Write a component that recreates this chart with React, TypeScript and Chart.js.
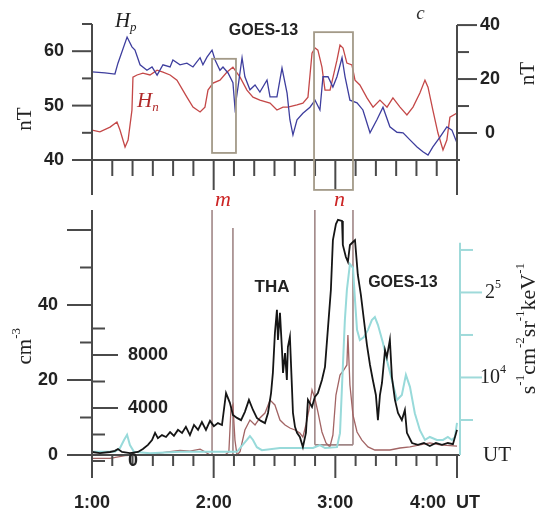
import React, { useEffect, useRef } from "react";
import { Chart, registerables } from "chart.js";
Chart.register(...registerables);

// time axis: minutes after 01:00 UT
const timeTickLabels = ["1:00", "2:00", "3:00", "4:00"];
const timeTickValues = [0, 60, 120, 180];

// ---------- top panel: GOES-13 magnetic field ----------
const hpTime = [0, 6.4, 11.3, 12.8, 17.3, 19.7, 21.2, 23.7, 27.1, 29.6, 32.1, 35, 38.5, 39.9, 43.4, 46.8, 49.8, 53.3, 54.7, 56.7, 59.2, 60.7, 63.1, 64.6, 67.1, 69.5, 70.5, 72, 74, 75.4, 77.9, 80.4, 82.8, 86.3, 87.8, 91.2, 93.7, 96.2, 97.6, 99.1, 101.1, 104, 107.5, 110, 112.4, 113.9, 116.4, 118.8, 120.8, 123.3, 124.8, 127.2, 130.7, 133.6, 137.1, 140.5, 143.5, 146.9, 150.4, 153.4, 156.8, 160.3, 163.2, 165.7, 168.1, 171.6, 175, 177.5, 180];
const hpValue = [56.2, 56.0, 55.8, 57.8, 62.6, 60.8, 60.2, 57.5, 56.5, 57.1, 55.6, 57.5, 57.1, 58.4, 57.5, 57.8, 57.1, 58.8, 57.5, 58.9, 60.2, 58.4, 56.5, 57.1, 56.0, 54.2, 49.6, 53.4, 58.8, 55.3, 52.9, 53.8, 52.5, 54.7, 51.6, 51.6, 56.9, 52.3, 47.4, 44.6, 47.4, 48.6, 49.7, 51.0, 49.2, 55.3, 55.3, 53.4, 55.3, 58.8, 55.3, 51.0, 50.5, 49.2, 45.0, 47.4, 49.7, 46.1, 45.1, 45.0, 43.7, 42.4, 41.5, 40.9, 42.4, 44.2, 46.1, 45.5, 43.1];
const hnTime = [0, 3.9, 8.9, 12.3, 13.8, 16.3, 17.8, 19.7, 20.2, 22.2, 25.1, 28.6, 32.1, 35, 38.5, 41.9, 46.8, 49.8, 53.3, 55.7, 57.2, 59.7, 63.1, 66.6, 69.5, 73, 76.4, 79.4, 82.8, 87.8, 91.2, 94.2, 96.6, 101.1, 104, 106.5, 108.5, 110, 111.4, 113.4, 114.9, 117.4, 120.8, 122.3, 123.8, 125.7, 128.2, 129.7, 132.1, 135.6, 138.6, 142, 145.5, 148.4, 151.9, 155.3, 158.3, 161.7, 164.2, 165.7, 168.1, 170.6, 173.1, 175, 176.5, 180];
const hnValue = [1.1, 0.4, 2.2, 4.1, 1.1, -5.2, -2.6, 8.5, 20.7, 21.5, 22.2, 21.5, 23.3, 22.6, 21.5, 19.6, 13.3, 9.6, 7.8, 9.6, 15.9, 18.5, 19.6, 22.6, 24.4, 20.7, 15.9, 13.3, 12.2, 11.1, 8.5, 9.6, 9.6, 10.4, 11.1, 13.3, 29.6, 31.5, 30.7, 24.4, 15.9, 15.9, 27.0, 32.6, 31.5, 25.9, 25.2, 19.6, 17.8, 13.0, 9.6, 12.2, 9.6, 13.0, 9.6, 6.7, 9.6, 14.8, 19.6, 17.0, 8.5, 0, -6.3, -2.6, 5.9, 7.4];
const hpTicks = [45, 50, 55, 60, 65];
const hpLabels = [40, 50, 60];
const hnTicks = [0, 10, 20, 30, 40];
const hnLabels = [0, 20, 40];
// interval boxes in the top panel [t0, t1, top, bottom] (Hp units)
const mBoxTop = [59.2, 71.0, 58.6, 41.3];
const nBoxTop = [109.5, 128.7, 63.5, 34.5];

// ---------- bottom panel ----------
const thaTime = [0, 3.9, 8.9, 11.3, 12.8, 14.8, 18.7, 22.7, 25.1, 27.6, 29.6, 31.1, 32.5, 34.5, 36.5, 38.5, 40.4, 42.4, 44.4, 46.3, 48.3, 50.3, 52.3, 54.2, 56.2, 58.2, 60.1, 62.1, 64.1, 66.1, 68, 69.5, 71.5, 73.5, 75.4, 77.4, 79.4, 81.3, 83.3, 85.3, 86.8, 88.3, 89.2, 90.2, 91.2, 91.7, 92.7, 93.7, 94.2, 95.2, 96.1, 96.6, 97.6, 98.6, 99.1, 100.1, 101.1, 102.5, 104, 105.5, 106.5, 108.5, 109.9, 111.4, 113.4, 114.9, 116.4, 117.8, 118.8, 120.3, 121.3, 123.3, 123.7, 125.2, 126.2, 127.2, 128.7, 129.7, 131.1, 132.6, 134.1, 135.6, 137.1, 138.5, 140, 141, 142, 143, 144.5, 145.4, 146.9, 147.9, 149.4, 150.9, 152.8, 154.3, 155.3, 157.8, 160.7, 163.7, 166.6, 169.6, 172.6, 175.5, 178, 180];
const thaDensity = [0.8, 0.5, 0.8, 1.1, 1.6, 0.8, 0.5, 0.8, 1.6, 2.7, 4.0, 5.9, 4.5, 5.3, 4.8, 6.1, 5.1, 6.7, 5.9, 7.5, 5.3, 8.0, 6.7, 8.8, 6.7, 9.1, 7.7, 8.5, 8.0, 16.5, 13.9, 10.7, 9.9, 9.3, 11.5, 14.7, 12.0, 9.9, 9.1, 8.5, 11.2, 16.5, 21.9, 32.5, 38.7, 30.7, 37.9, 28.0, 21.9, 27.2, 20.0, 28.8, 31.5, 18.1, 11.2, 7.5, 5.9, 4.8, 2.1, 5.9, 14.7, 12.8, 15.5, 16.5, 20.0, 23.5, 34.1, 44.0, 57.3, 61.6, 62.7, 62.4, 56.0, 52.8, 51.5, 56.0, 56.8, 57.3, 48.0, 42.7, 36.0, 29.3, 24.0, 20.0, 16.0, 9.3, 16.0, 19.2, 28.0, 26.1, 30.7, 20.8, 14.7, 11.2, 9.3, 12.0, 5.9, 3.2, 2.7, 3.2, 2.4, 3.2, 2.7, 3.2, 2.9, 6.7];
const ionTime = [0, 8.9, 16.3, 28.6, 38.5, 43.4, 48.3, 53.3, 55.7, 58.2, 65.6, 67.5, 68.5, 69.5, 70.5, 71.5, 73, 75.4, 77.9, 80.4, 82.8, 85.3, 87.8, 90.2, 92.7, 95.2, 97.6, 100.1, 102.5, 104, 105.5, 107, 108.5, 109.9, 111.4, 113.4, 115.4, 117.3, 118.8, 120.3, 122.3, 124.2, 125.7, 126.2, 127.2, 128.7, 130.7, 133.1, 136.1, 139.5, 146.9, 151.9, 156.8, 161.7, 166.6, 171.6, 180];
const ionValue = [200, 200, 400, 500, 700, 800, 750, 900, 700, 450, 450, 700, 3850, 4230, 1580, 450, 700, 2340, 3090, 2720, 3250, 3620, 4600, 4230, 3090, 2720, 2490, 2340, 2110, 1810, 2720, 3850, 5360, 4750, 3700, 2190, 1360, 1060, 1960, 4980, 6490, 6870, 7250, 9510, 5740, 3470, 2190, 1580, 1060, 830, 830, 980, 1060, 1210, 1360, 1210, 1130];
const goesTime = [0, 11.3, 13.8, 15.8, 17.3, 18.7, 20.7, 28.6, 43.4, 58.2, 71.5, 73.9, 76.4, 77.9, 79.4, 81.3, 83.8, 92.7, 101.1, 109, 112.4, 114.9, 120.8, 122.3, 123.7, 124.7, 125.7, 127.2, 128.7, 129.7, 130.7, 132.1, 134.1, 136.1, 138, 139.5, 141, 143.5, 145.4, 147.9, 150.4, 152.8, 154.8, 156.8, 159.2, 161.7, 164.2, 166.6, 170.1, 173.1, 175.5, 177.5, 179, 180];
const goesFlux = [0.25, 0.25, 0.34, 0.53, 0.65, 0.41, 0.25, 0.22, 0.25, 0.25, 0.25, 0.39, 0.53, 0.62, 0.53, 0.36, 0.29, 0.34, 0.34, 0.34, 0.41, 0.34, 0.36, 0.69, 2.25, 3.35, 4.06, 4.67, 4.58, 3.82, 3.12, 2.88, 2.95, 3.12, 3.35, 3.42, 3.24, 2.81, 2.41, 1.94, 1.47, 1.59, 2.06, 1.78, 1.16, 0.76, 0.53, 0.6, 0.53, 0.53, 0.6, 0.53, 0.6, 0.93];
const densityMajor = [0, 20, 40, 60];
const densityMinor = [10, 30, 50];
const densityLabels = [0, 20, 40];
const ionTicks = [0, 2000, 4000, 6000, 8000, 10000];
const ionLabels = [0, 4000, 8000];
const fluxTicks = [1, 2, 3, 4, 5];
const fluxLabelValues = [2, 4];
const fluxLabelBase = ["10", "2"];
const fluxLabelExp = ["4", "5"];
// vertical interval lines in bottom panel
const mLineTimes = [59.2, 69.5];
const mLineTops = [65.3, 60.5];
const nLineTimes = [109.9, 128.7];
const nBoxBottom = 2.7;

const AXIS = "#4a4a4a";
const BOXC = "#a39a88";
const VLINE = "#a08686";
const REDTXT = "#cc2424";
const SANS = "'Liberation Sans', Arial, sans-serif";
const SERIF = "'Liberation Serif', 'Times New Roman', serif";

type Run = { t: string; s?: "sup" | "sub" };
type RichOpts = { size: number; family: string; style?: string; color: string; align?: "left" | "center" | "right"; rotate?: boolean; weight?: string };

function rich(ctx: CanvasRenderingContext2D, runs: Run[], x: number, y: number, o: RichOpts) {
  ctx.save();
  ctx.translate(x, y);
  if (o.rotate) ctx.rotate(-Math.PI / 2);
  const fontFor = (r: Run) => `${o.style || "normal"} ${o.weight || "normal"} ${r.s ? Math.round(o.size * 0.6) : o.size}px ${o.family}`;
  const widths = runs.map((r) => { ctx.font = fontFor(r); return ctx.measureText(r.t).width; });
  const total = widths.reduce((a, b) => a + b, 0);
  let cx = o.align === "center" ? -total / 2 : o.align === "right" ? -total : 0;
  ctx.textBaseline = "middle";
  ctx.textAlign = "left";
  ctx.fillStyle = o.color;
  runs.forEach((r, i) => {
    ctx.font = fontFor(r);
    const dy = r.s === "sup" ? -o.size * 0.38 : r.s === "sub" ? o.size * 0.3 : 0;
    ctx.fillText(r.t, cx, dy);
    cx += widths[i];
  });
  ctx.restore();
}

function seg(ctx: CanvasRenderingContext2D, x1: number, y1: number, x2: number, y2: number) {
  ctx.beginPath();
  ctx.moveTo(x1, y1);
  ctx.lineTo(x2, y2);
  ctx.stroke();
}

function pts(t: number[], v: number[]) {
  return t.map((x, i) => ({ x, y: v[i] }));
}

const topPlugin = {
  id: "topDecor",
  afterDraw(chart: any) {
    const { ctx, chartArea: a, scales } = chart;
    const X = (t: number) => scales.x.getPixelForValue(t);
    const YL = (v: number) => scales.yL.getPixelForValue(v);
    const YR = (v: number) => scales.yR.getPixelForValue(v);
    ctx.save();
    ctx.strokeStyle = AXIS;
    ctx.lineWidth = 2;
    const ext = a.bottom + 35;
    seg(ctx, a.left, YL(65), a.left, ext);
    seg(ctx, a.right, YR(40), a.right, ext);
    seg(ctx, a.left - 20, a.bottom, a.right + 3, a.bottom);
    for (let t = 10; t < 180; t += 10) {
      const major = t % 60 === 0;
      seg(ctx, X(t), a.bottom, X(t), a.bottom + (major ? 30 : 16));
    }
    hpTicks.forEach((v) => {
      const major = hpLabels.includes(v);
      seg(ctx, a.left - (major ? 20 : 10), YL(v), a.left, YL(v));
    });
    hnTicks.forEach((v) => {
      const major = hnLabels.includes(v);
      seg(ctx, a.right, YR(v), a.right + (major ? 20 : 12), YR(v));
    });
    // boxes
    ctx.strokeStyle = BOXC;
    ctx.lineWidth = 1.8;
    [mBoxTop, nBoxTop].forEach((b) => {
      ctx.strokeRect(X(b[0]), YL(b[2]), X(b[1]) - X(b[0]), YL(b[3]) - YL(b[2]));
    });
    // labels
    hpLabels.forEach((v) => rich(ctx, [{ t: String(v) }], a.left - 28, YL(v), { size: 18, family: SANS, weight: "bold", color: "#222", align: "right" }));
    hnLabels.forEach((v) => rich(ctx, [{ t: String(v) }], a.right + 33, YR(v), { size: 18, family: SANS, weight: "bold", color: "#222", align: "center" }));
    rich(ctx, [{ t: "nT" }], 25, (YL(45) + YL(50)) / 2, { size: 21, family: SERIF, color: "#222", align: "center", rotate: true });
    rich(ctx, [{ t: "nT" }], 528, YR(22), { size: 21, family: SERIF, color: "#222", align: "center", rotate: true });
    rich(ctx, [{ t: "H" }, { t: "p", s: "sub" }], X(11.3), 21, { size: 21, family: SERIF, style: "italic", color: "#222" });
    rich(ctx, [{ t: "H" }, { t: "n", s: "sub" }], X(22.2), YL(50.8), { size: 21, family: SERIF, style: "italic", color: "#b02a2a" });
    rich(ctx, [{ t: "GOES-13" }], X(84.6), 31, { size: 16, family: SANS, weight: "bold", color: "#222", align: "center" });
    rich(ctx, [{ t: "c" }], X(162), 14, { size: 19, family: SERIF, style: "italic", color: "#333", align: "center" });
    ctx.restore();
  },
};

const bottomPlugin = {
  id: "bottomDecor",
  beforeDatasetsDraw(chart: any) {
    const { ctx, scales } = chart;
    const X = (t: number) => scales.x.getPixelForValue(t);
    const Y = (v: number) => scales.y.getPixelForValue(v);
    ctx.save();
    ctx.strokeStyle = VLINE;
    ctx.lineWidth = 1.6;
    mLineTimes.forEach((t, i) => seg(ctx, X(t), Y(mLineTops[i]), X(t), Y(0)));
    nLineTimes.forEach((t) => seg(ctx, X(t), Y(65.3), X(t), Y(nBoxBottom)));
    seg(ctx, X(nLineTimes[0]), Y(nBoxBottom), X(nLineTimes[1]), Y(nBoxBottom));
    ctx.restore();
  },
  afterDraw(chart: any) {
    const { ctx, chartArea: a, scales } = chart;
    const X = (t: number) => scales.x.getPixelForValue(t);
    const Y = (v: number) => scales.y.getPixelForValue(v);
    const YI = (v: number) => scales.yIon.getPixelForValue(v);
    const YF = (v: number) => scales.yFlux.getPixelForValue(v);
    ctx.save();
    ctx.strokeStyle = AXIS;
    ctx.lineWidth = 2;
    seg(ctx, a.left, a.top, a.left, a.bottom + 23);
    seg(ctx, a.left - 25, a.bottom, a.right + 3, a.bottom);
    for (let t = 10; t <= 180; t += 10) {
      const major = t % 60 === 0;
      seg(ctx, X(t), a.bottom, X(t), a.bottom + (major ? 23 : 11));
    }
    densityMajor.forEach((v) => seg(ctx, a.left - 25, Y(v), a.left, Y(v)));
    densityMinor.forEach((v) => seg(ctx, a.left - 12, Y(v), a.left, Y(v)));
    ionTicks.forEach((v) => {
      const major = ionLabels.includes(v) && v > 0;
      seg(ctx, a.left, YI(v), a.left + (major ? 26 : 13), YI(v));
    });
    // flux axis
    ctx.strokeStyle = "#9fdada";
    const fx = a.right + 3;
    seg(ctx, fx, YF(5.17), fx, a.bottom);
    fluxTicks.forEach((v) => {
      const major = fluxLabelValues.includes(v);
      seg(ctx, fx, YF(v), fx + (major ? 22 : 13), YF(v));
    });
    // labels
    densityLabels.forEach((v) => rich(ctx, [{ t: String(v) }], a.left - 34, Y(v), { size: 18, family: SANS, weight: "bold", color: "#222", align: "right" }));
    ionLabels.forEach((v) => rich(ctx, [{ t: String(v) }], a.left + 36, YI(v), { size: 18, family: SANS, weight: "bold", color: "#222", align: "left" }));
    fluxLabelValues.forEach((v, i) => rich(ctx, [{ t: fluxLabelBase[i] }, { t: fluxLabelExp[i], s: "sup" }], fx + 33, YF(v), { size: 20, family: SERIF, color: "#222", align: "center" }));
    rich(ctx, [{ t: "UT" }], fx + 23, a.bottom, { size: 21, family: SERIF, color: "#222", align: "left" });
    rich(ctx, [{ t: "cm" }, { t: "-3", s: "sup" }], 25, Y(29), { size: 21, family: SERIF, color: "#222", align: "center", rotate: true });
    rich(ctx, [{ t: "s" }, { t: "-1", s: "sup" }, { t: "cm" }, { t: "-2", s: "sup" }, { t: "sr" }, { t: "-1", s: "sup" }, { t: "keV" }, { t: "-1", s: "sup" }], 529, YF(3.15), { size: 22, family: SERIF, color: "#222", align: "center", rotate: true });
    timeTickValues.forEach((t, i) => {
      if (i === 3) rich(ctx, [{ t: timeTickLabels[i] + "  UT" }], X(t) - 12, a.bottom + 48, { size: 18, family: SANS, weight: "bold", color: "#222", align: "center" });
      else rich(ctx, [{ t: timeTickLabels[i] }], X(t), a.bottom + 48, { size: 18, family: SANS, weight: "bold", color: "#222", align: "center" });
    });
    rich(ctx, [{ t: "m" }], X(64.6), a.top - 10, { size: 22, family: SERIF, style: "italic", color: REDTXT, align: "center" });
    rich(ctx, [{ t: "n" }], X(122), a.top - 10, { size: 22, family: SERIF, style: "italic", color: REDTXT, align: "center" });
    rich(ctx, [{ t: "THA" }], X(88.8), Y(44.8), { size: 17, family: SANS, weight: "bold", color: "#222", align: "center" });
    rich(ctx, [{ t: "GOES-13" }], X(153.3), Y(46.1), { size: 16, family: SANS, weight: "bold", color: "#222", align: "center" });
    ctx.restore();
  },
};

export default function App() {
  const topRef = useRef<HTMLCanvasElement>(null);
  const botRef = useRef<HTMLCanvasElement>(null);

  useEffect(() => {
    const common = {
      animation: false as const,
      responsive: false,
      maintainAspectRatio: false,
      plugins: { legend: { display: false }, tooltip: { enabled: false } },
      elements: { point: { radius: 0 }, line: { tension: 0 } },
    };
    const c1 = new Chart(topRef.current!, {
      type: "line",
      data: {
        datasets: [
          { label: "Hp", data: pts(hpTime, hpValue), yAxisID: "yL", borderColor: "#3e3e9e", borderWidth: 1.3, pointRadius: 0, fill: false },
          { label: "Hn", data: pts(hnTime, hnValue), yAxisID: "yR", borderColor: "#c44848", borderWidth: 1.3, pointRadius: 0, fill: false },
        ],
      },
      options: {
        ...common,
        layout: { padding: { left: 92, right: 84, top: 24, bottom: 40 } },
        scales: {
          x: { type: "linear", min: 0, max: 180, display: false },
          yL: { type: "linear", min: 40, max: 65, display: false },
          yR: { type: "linear", min: -10, max: 40.4, display: false },
        },
      } as any,
      plugins: [topPlugin],
    });
    const c2 = new Chart(botRef.current!, {
      type: "line",
      data: {
        datasets: [
          { label: "THA density", data: pts(thaTime, thaDensity), yAxisID: "y", borderColor: "#151515", borderWidth: 1.8, pointRadius: 0, fill: false, clip: false },
          { label: "GOES-13 flux", data: pts(goesTime, goesFlux), yAxisID: "yFlux", borderColor: "#98dada", borderWidth: 2, pointRadius: 0, fill: false, clip: false },
          { label: "THA ions", data: pts(ionTime, ionValue), yAxisID: "yIon", borderColor: "#a26464", borderWidth: 1.3, pointRadius: 0, fill: false, clip: false },
        ],
      },
      options: {
        ...common,
        layout: { padding: { left: 92, right: 84, top: 25, bottom: 62 } },
        scales: {
          x: { type: "linear", min: 0, max: 180, display: false },
          y: { type: "linear", min: 0, max: 65.33, display: false },
          yIon: { type: "linear", min: 453, max: 18944, display: false },
          yFlux: { type: "linear", min: 0.176, max: 5.94, display: false },
        },
      } as any,
      plugins: [bottomPlugin],
    });
    return () => {
      c1.destroy();
      c2.destroy();
    };
  }, []);

  return (
    <div style={{ position: "fixed", left: 0, top: 0, width: 541, height: 517, background: "#fff", overflow: "hidden" }}>
      <canvas ref={topRef} width={541} height={200} style={{ position: "absolute", left: 0, top: 0, width: 541, height: 200 }} />
      <canvas ref={botRef} width={541} height={332} style={{ position: "absolute", left: 0, top: 185, width: 541, height: 332 }} />
    </div>
  );
}
